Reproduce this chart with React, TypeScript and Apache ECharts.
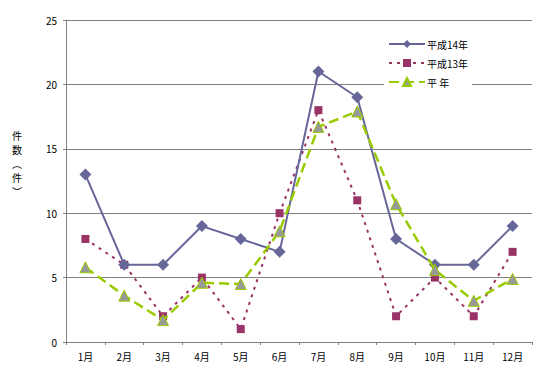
import React, { useEffect, useRef } from "react";
import * as echarts from "echarts";

const months = ["1月", "2月", "3月", "4月", "5月", "6月", "7月", "8月", "9月", "10月", "11月", "12月"];
const h14 = [13, 6, 6, 9, 8, 7, 21, 19, 8, 6, 6, 9];
const h13 = [8, 6, 2, 5, 1, 10, 18, 11, 2, 5, 2, 7];
const heinen = [5.8, 3.6, 1.7, 4.6, 4.5, 8.6, 16.7, 17.9, 10.7, 5.6, 3.2, 4.9];
const seriesNames = ["平成14年", "平成13年", "平 年"];

const FONT = "'Noto Sans CJK JP', 'Noto Sans', sans-serif";

export default function App() {
  const ref = useRef<HTMLDivElement>(null);
  useEffect(() => {
    document.body.style.margin = "0";
    const chart = echarts.init(ref.current!, null, { renderer: "svg" });
    chart.setOption({
      animation: false,
      backgroundColor: "#ffffff",
      textStyle: { fontFamily: FONT },
      grid: { left: 66, right: 17, top: 20, bottom: 44 },
      legend: {
        orient: "vertical",
        left: 384,
        top: 36,
        itemWidth: 36,
        itemHeight: 10,
        itemGap: 9,
        padding: [3, 4, 3, 4],
        backgroundColor: "#ffffff",
        textStyle: { fontSize: 10, color: "#000", fontFamily: FONT, padding: [0, 0, 0, -3] },
        data: seriesNames,
      },
      xAxis: {
        type: "category",
        data: months,
        boundaryGap: true,
        axisLine: { lineStyle: { color: "#808080", width: 1 } },
        axisTick: { show: true, length: 3, lineStyle: { color: "#808080" } },
        axisLabel: { fontSize: 10, color: "#000", margin: 9, fontFamily: FONT },
        splitLine: { show: false },
      },
      yAxis: {
        type: "value",
        min: 0,
        max: 25,
        interval: 5,
        axisLine: { show: true, lineStyle: { color: "#808080", width: 1 } },
        axisTick: { show: true, length: 3, lineStyle: { color: "#808080" } },
        axisLabel: { fontSize: 10, color: "#000", margin: 9, fontFamily: FONT },
        splitLine: { show: true, lineStyle: { color: "#808080", width: 1 } },
      },
      graphic: [
        {
          type: "text",
          left: 12,
          top: 128,
          style: {
            text: "件\n数\n︵\n件\n︶",
            fontSize: 10,
            lineHeight: 14,
            fill: "#000",
            fontFamily: FONT,
            align: "center",
          },
        },
      ],
      series: [
        {
          name: seriesNames[0],
          type: "line",
          data: h14,
          symbol: "diamond",
          symbolSize: 12,
          z: 3,
          itemStyle: { color: "#666699" },
          lineStyle: { color: "#666699", width: 2 },
        },
        {
          name: seriesNames[1],
          type: "line",
          data: h13,
          symbol: "rect",
          symbolSize: 8,
          z: 2,
          itemStyle: { color: "#993366" },
          lineStyle: { color: "#993366", width: 2, type: [3, 5] },
        },
        {
          name: seriesNames[2],
          type: "line",
          data: heinen,
          symbol: "triangle",
          symbolSize: 11,
          z: 4,
          itemStyle: { color: "#999999", borderColor: "#99CC00", borderWidth: 1 },
          lineStyle: { color: "#99CC00", width: 2.5, type: [10, 5] },
        },
      ],
    });
    return () => chart.dispose();
  }, []);
  return <div ref={ref} style={{ width: 549, height: 386 }} />;
}
